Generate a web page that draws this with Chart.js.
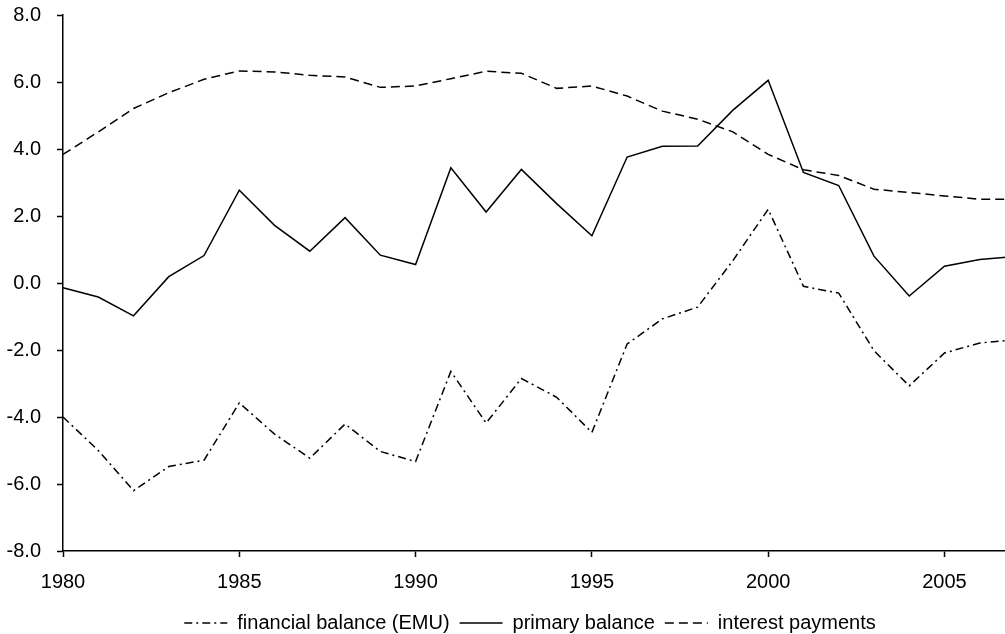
<!DOCTYPE html>
<html>
<head>
<meta charset="utf-8">
<script src="https://cdn.jsdelivr.net/npm/chart.js@4"></script>
<style>
html,body{margin:0;padding:0;background:#fff;overflow:hidden;width:1005px;height:634px;}
canvas{display:block;}
</style>
</head>
<body>
<canvas id="c" width="1060" height="634"></canvas>
<script>
const years = ['1980','1981','1982','1983','1984','1985','1986','1987','1988','1989','1990','1991','1992','1993','1994','1995','1996','1997','1998','1999','2000','2001','2002','2003','2004','2005','2006','2007'];
const financialBalance = [-4.0,-5.0,-6.2,-5.48,-5.29,-3.58,-4.51,-5.23,-4.21,-5.03,-5.33,-2.64,-4.18,-2.85,-3.41,-4.46,-1.82,-1.07,-0.72,0.67,2.2,-0.1,-0.3,-2.02,-3.07,-2.09,-1.79,-1.7];
const primaryBalance = [-0.14,-0.42,-0.98,0.19,0.82,2.77,1.72,0.95,1.95,0.83,0.55,3.44,2.12,3.39,2.37,1.41,3.76,4.08,4.09,5.16,6.05,3.3,2.91,0.8,-0.39,0.5,0.7,0.79];
const interestPayments = [3.84,4.51,5.21,5.68,6.08,6.33,6.3,6.2,6.15,5.84,5.88,6.1,6.32,6.26,5.81,5.88,5.58,5.13,4.89,4.51,3.84,3.38,3.21,2.8,2.7,2.6,2.5,2.5];
const seriesNames = ['financial balance (EMU)','primary balance','interest payments'];
const yTicks = [-8,-6,-4,-2,0,2,4,6,8];

const font = {family:'"Liberation Sans", Arial, sans-serif', size:20, lineHeight:1.2};
Chart.defaults.font.family = font.family;
Chart.defaults.font.size = 20;
Chart.defaults.color = '#000';

new Chart(document.getElementById('c'), {
  type:'line',
  data:{
    labels: years,
    datasets:[
      {label:seriesNames[0], data:financialBalance, borderColor:'#000', backgroundColor:'#000', borderWidth:1.5, borderDash:[8,4,2,4], pointRadius:0, tension:0},
      {label:seriesNames[1], data:primaryBalance, borderColor:'#000', backgroundColor:'#000', borderWidth:1.5, pointRadius:0, tension:0},
      {label:seriesNames[2], data:interestPayments, borderColor:'#000', backgroundColor:'#000', borderWidth:1.5, borderDash:[9,5], pointRadius:0, tension:0}
    ]
  },
  options:{
    responsive:false,
    animation:false,
    devicePixelRatio:1,
    layout:{padding:{top:15,right:0,left:0,bottom:-9}},
    plugins:{
      tooltip:{enabled:false},
      legend:{
        position:'bottom',
        labels:{
          usePointStyle:true,
          pointStyle:'line',
          pointStyleWidth:43,
          boxWidth:43,
          boxHeight:20,
          padding:10,
          color:'#000',
          font:font,
          generateLabels:(chart)=>{
            const items = Chart.defaults.plugins.legend.labels.generateLabels(chart);
            items.forEach((it)=>{
              const ds = chart.data.datasets[it.datasetIndex];
              it.lineDash = ds.borderDash || [];
              it.lineWidth = 1.5;
              it.strokeStyle = '#000';
            });
            return items;
          }
        }
      }
    },
    scales:{
      x:{
        type:'category',
        offset:false,
        border:{display:true,color:'#000',width:1.5},
        grid:{display:true,drawOnChartArea:false,drawTicks:true,tickLength:6,tickWidth:1.5,
          tickColor:(ctx)=> (ctx.index % 5 === 0 ? '#000' : 'rgba(0,0,0,0)')},
        afterFit:(axis)=>{axis.height -= 4;},
        ticks:{autoSkip:false,maxRotation:0,padding:13,color:'#000',font:font,
          callback:function(v,i){return i%5===0 ? years[i] : '';}}
      },
      y:{
        min:-8,max:8,
        border:{display:true,color:'#000',width:1.5},
        grid:{display:true,drawOnChartArea:false,drawTicks:true,tickLength:6,tickWidth:1.5,color:'#000'},
        afterBuildTicks:(axis)=>{axis.ticks = yTicks.map(v=>({value:v}));},
        afterFit:(axis)=>{axis.width = 63; axis.paddingTop = 0;},
        ticks:{padding:16,color:'#000',font:font,callback:(v)=>Number(v).toFixed(1)}
      },
      yRight:{
        position:'right',
        display:true,
        grid:{display:false},
        border:{display:false},
        ticks:{display:false},
        afterFit:(axis)=>{axis.width = 45; axis.paddingTop = 0;}
      }
    }
  }
});
</script>
</body>
</html>
